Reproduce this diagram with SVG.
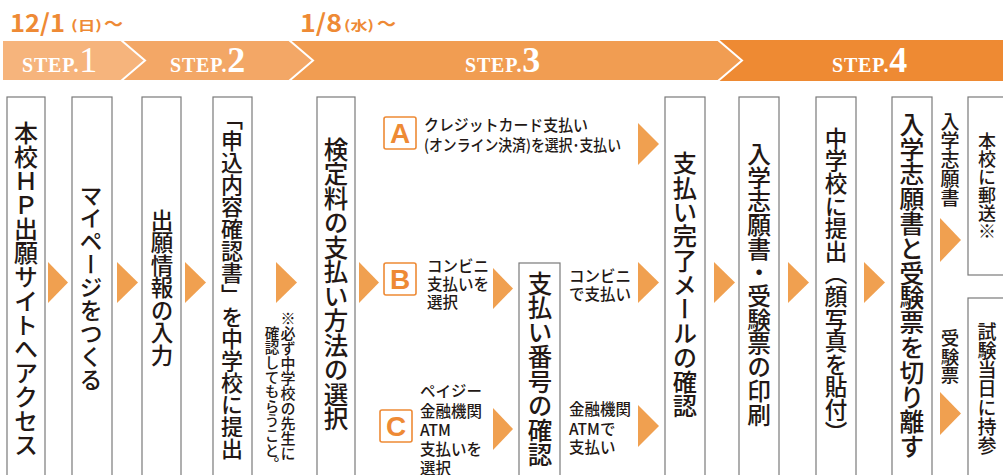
<svg xmlns="http://www.w3.org/2000/svg" width="1003" height="475" viewBox="0 0 1003 475">
<style>
.box{fill:#fff;stroke:#7a7a7a;stroke-width:1.2}
.arr{fill:#f0a050}
.v{font-family:"Noto Sans CJK JP","Noto Sans",sans-serif;writing-mode:vertical-rl;fill:#231815;font-weight:500}
.h{font-family:"Noto Sans CJK JP","Noto Sans",sans-serif;fill:#231815;font-size:15.5px;font-weight:500}
.date{font-family:"Noto Sans CJK JP","Noto Sans",sans-serif;fill:#ee8a35;font-weight:bold}
.step{font-family:"Liberation Serif",serif;fill:#fff;letter-spacing:0.8px}
.lbox{fill:#fff;stroke:#ee8a35;stroke-width:1.6}
.let{font-family:"Liberation Sans",sans-serif;fill:#ee8a35;font-size:28px;text-anchor:middle;font-weight:bold}
</style>
<rect width="1003" height="475" fill="#fff"/>
<g id="dates">
<text class="date" x="10" y="32" font-size="24" textLength="55" lengthAdjust="spacingAndGlyphs">12/1</text>
<text class="date" x="71" y="30" font-size="13" textLength="31" lengthAdjust="spacingAndGlyphs">(日)</text>
<text class="date" x="104" y="31" font-size="19">～</text>
<text class="date" x="300" y="32" font-size="24" textLength="42" lengthAdjust="spacingAndGlyphs">1/8</text>
<text class="date" x="344" y="30" font-size="13" textLength="30" lengthAdjust="spacingAndGlyphs">(水)</text>
<text class="date" x="377" y="31" font-size="19">～</text>
</g>
<g id="banner">
<rect x="2" y="40" width="1001" height="41" fill="#ee8a33"/>
<polygon points="2,40 718,40 742,60.5 718,81 2,81" fill="#f19d52" stroke="#fff" stroke-width="2"/>
<polygon points="2,40 289,40 313,60.5 289,81 2,81" fill="#f3a766" stroke="#fff" stroke-width="2"/>
<polygon points="2,40 121,40 145,60.5 121,81 2,81" fill="#f6b47c" stroke="#fff" stroke-width="2"/>
<rect x="0" y="39" width="2" height="43" fill="#fff"/>
<text class="step" x="22" y="72" font-size="20" font-weight="bold">STEP.<tspan font-size="36" font-weight="normal">1</tspan></text>
<text class="step" x="170" y="72" font-size="20" font-weight="bold">STEP.<tspan font-size="36">2</tspan></text>
<text class="step" x="465" y="72" font-size="20" font-weight="bold">STEP.<tspan font-size="36">3</tspan></text>
<text class="step" x="832" y="72" font-size="20" font-weight="bold">STEP.<tspan font-size="36">4</tspan></text>
</g>
<g id="connectors">
<polygon class="arr" points="48,262 68,282.5 48,303"/>
<polygon class="arr" points="117,262 138,282.5 117,303"/>
<polygon class="arr" points="185,262 206,282.5 185,303"/>
<polygon class="arr" points="276,262 297,282.5 276,303"/>
<polygon class="arr" points="359,262 379,282.5 359,303"/>
<polygon class="arr" points="638,123 659,144 638,165"/>
<polygon class="arr" points="493,268 513,288.5 493,309"/>
<polygon class="arr" points="638,262 659,282.5 638,303"/>
<polygon class="arr" points="493,408 513,429 493,450"/>
<polygon class="arr" points="638,405 659,426 638,447"/>
<polygon class="arr" points="714,262 735,282.5 714,303"/>
<polygon class="arr" points="788,262 809,282.5 788,303"/>
<polygon class="arr" points="864,262 885,282.5 864,303"/>
<polygon class="arr" points="940,218 961,240 940,262"/>
<polygon class="arr" points="940,392 961,413.5 940,435"/>
</g>
<g id="n1"><rect class="box" x="7" y="97" width="38" height="390"/><text class="v" x="26" y="121" font-size="24">本校ＨＰ出願サイトへアクセス</text></g>
<g id="n2"><rect class="box" x="72" y="97" width="40" height="390"/><text class="v" x="91" y="184" font-size="23">マイページをつくる</text></g>
<g id="n3"><rect class="box" x="142" y="97" width="39" height="390"/><text class="v" x="162" y="209" font-size="22.5">出願情報の入力</text></g>
<g id="n4"><rect class="box" x="213" y="97" width="39" height="390"/><text class="v" x="232" y="108" font-size="22">「申込内容確認書」を中学校に提出</text></g>
<g id="note"><text class="v" x="288" y="311" font-size="15">※必ず中学校の先生に</text><text class="v" x="272" y="326" font-size="14.6">確認してもらうこと。</text></g>
<g id="n5"><rect class="box" x="317" y="97" width="38" height="390"/><text class="v" x="336" y="137" font-size="24.5">検定料の支払い方法の選択</text></g>
<g id="optA"><rect class="lbox" x="384" y="117" width="32" height="32" rx="2"/><text class="let" x="400" y="143">A</text>
<text class="h" x="424" y="131" textLength="164" lengthAdjust="spacingAndGlyphs">クレジットカード支払い</text><text class="h" x="424" y="151" textLength="197" lengthAdjust="spacingAndGlyphs">(オンライン決済)を選択･支払い</text></g>
<g id="optB"><rect class="lbox" x="384" y="263" width="32" height="32" rx="2"/><text class="let" x="400" y="289">B</text>
<text class="h" x="427" y="272">コンビニ</text><text class="h" x="427" y="290">支払いを</text><text class="h" x="427" y="308">選択</text></g>
<g id="optC"><rect class="lbox" x="380" y="410" width="32" height="32" rx="2"/><text class="let" x="396" y="436">C</text>
<text class="h" x="420" y="397">ペイジー</text><text class="h" x="420" y="417">金融機関</text><text class="h" x="420" y="436">ATM</text><text class="h" x="420" y="455">支払いを</text><text class="h" x="420" y="474">選択</text></g>
<g id="n6"><rect class="box" x="519" y="263" width="41" height="230"/><text class="v" x="540" y="271" font-size="24.5">支払い番号の確認</text></g>
<g id="payB"><text class="h" x="569" y="282">コンビニ</text><text class="h" x="569" y="300">で支払い</text></g>
<g id="payC"><text class="h" x="569" y="415">金融機関</text><text class="h" x="569" y="435">ATMで</text><text class="h" x="569" y="453">支払い</text></g>
<g id="n7"><rect class="box" x="665" y="97" width="40" height="390"/><text class="v" x="685" y="151" font-size="24.3">支払い完了メールの確認</text></g>
<g id="n8"><rect class="box" x="739" y="97" width="40" height="390"/><text class="v" x="759" y="142" font-size="23.7">入学志願書・受験票の印刷</text></g>
<g id="n9"><rect class="box" x="816" y="97" width="40" height="390"/><text class="v" x="836" y="127" font-size="22.6">中学校に提出（顔写真を貼付）</text></g>
<g id="n10"><rect class="box" x="892" y="97" width="40" height="390"/><text class="v" x="912" y="112" font-size="24.8">入学志願書と受験票を切り離す</text></g>
<g id="lab1"><text class="v" x="950" y="112" font-size="19">入学志願書</text></g>
<g id="lab2"><text class="v" x="950" y="329" font-size="18.5">受験票</text></g>
<g id="n11"><rect class="box" x="968" y="97" width="40" height="178"/><text class="v" x="987" y="132" font-size="18">本校に郵送※</text></g>
<g id="n12"><rect class="box" x="968" y="298" width="40" height="190"/><text class="v" x="987" y="322" font-size="19">試験当日に持参</text></g>
</svg>
